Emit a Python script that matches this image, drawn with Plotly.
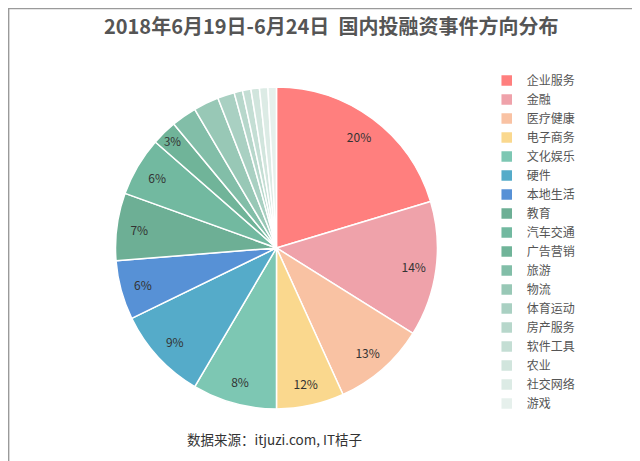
import plotly.graph_objects as go

# categories (clockwise from 12 o'clock)
categories = ['企业服务', '金融', '医疗健康', '电子商务', '文化娱乐', '硬件', '本地生活', '教育',
              '汽车交通', '广告营销', '旅游', '物流', '体育运动', '房产服务', '软件工具', '农业',
              '社交网络', '游戏']
# event counts
counts = [24, 16, 11, 8, 10, 11, 7, 8, 7, 3, 3, 3, 2, 1, 1, 1, 1, 1]
# labels as printed on the chart
pct_labels = ['20%', '14%', '13%', '12%', '8%', '9%', '6%', '7%', '6%', '3%',
              '', '', '', '', '', '', '', '']
colors = ['#FF7F7E', '#EFA2AA', '#F9C2A3', '#FAD88E', '#7DC7B3', '#55ABC9', '#5791D6', '#6DAF95',
          '#72B9A0', '#70B499', '#82BEA8', '#98C8B6', '#A9D0C2', '#B7D7CB', '#C4DED4', '#D1E5DD',
          '#DCEBE5', '#E6F0EC']

dom = dict(x=[0.168, 0.671], y=[0.130, 0.829])

fig = go.Figure()
# main pie
fig.add_trace(go.Pie(
    labels=categories,
    values=counts,
    textinfo='none',
    marker=dict(colors=colors, line=dict(color='white', width=1.5)),
    sort=False,
    direction='clockwise',
    rotation=0,
    domain=dom,
))
# transparent ring on top, only to place the labels near the rim
fig.add_trace(go.Pie(
    labels=categories,
    values=counts,
    text=pct_labels,
    textinfo='text',
    textposition='inside',
    insidetextorientation='horizontal',
    textfont=dict(size=12, color='#333333', family='Noto Sans CJK SC'),
    marker=dict(colors=['rgba(0,0,0,0)'] * len(categories), line=dict(width=0)),
    hole=0.72,
    sort=False,
    direction='clockwise',
    rotation=0,
    showlegend=False,
    hoverinfo='skip',
    domain=dom,
))

fig.update_layout(
    width=640, height=461,
    margin=dict(l=0, r=0, t=0, b=0),
    paper_bgcolor='white',
    font=dict(family='Noto Sans CJK SC', color='#555555'),
    title=dict(text='<b>2018年6月19日-6月24日  国内投融资事件方向分布</b>',
               x=0.505, xanchor='center', y=0.958, yanchor='middle',
               font=dict(size=20, color='#555555')),
    legend=dict(x=0.748, y=0.874, xanchor='left', yanchor='top',
                font=dict(size=12, color='#555555'), traceorder='normal',
                bgcolor='rgba(0,0,0,0)'),
    showlegend=True,
)

# source note
fig.add_annotation(text='数据来源：itjuzi.com, IT桔子', x=0.276, y=0.064,
                   xref='paper', yref='paper', xanchor='left', yanchor='middle',
                   showarrow=False, font=dict(size=13.5, color='#333333'))
# thin frame round the picture
fig.add_shape(type='rect', xref='paper', yref='paper', x0=0.001, x1=0.998, y0=0.003, y1=0.999,
              line=dict(color='#9a9a9a', width=1.5))

fig.write_html("out.html")
